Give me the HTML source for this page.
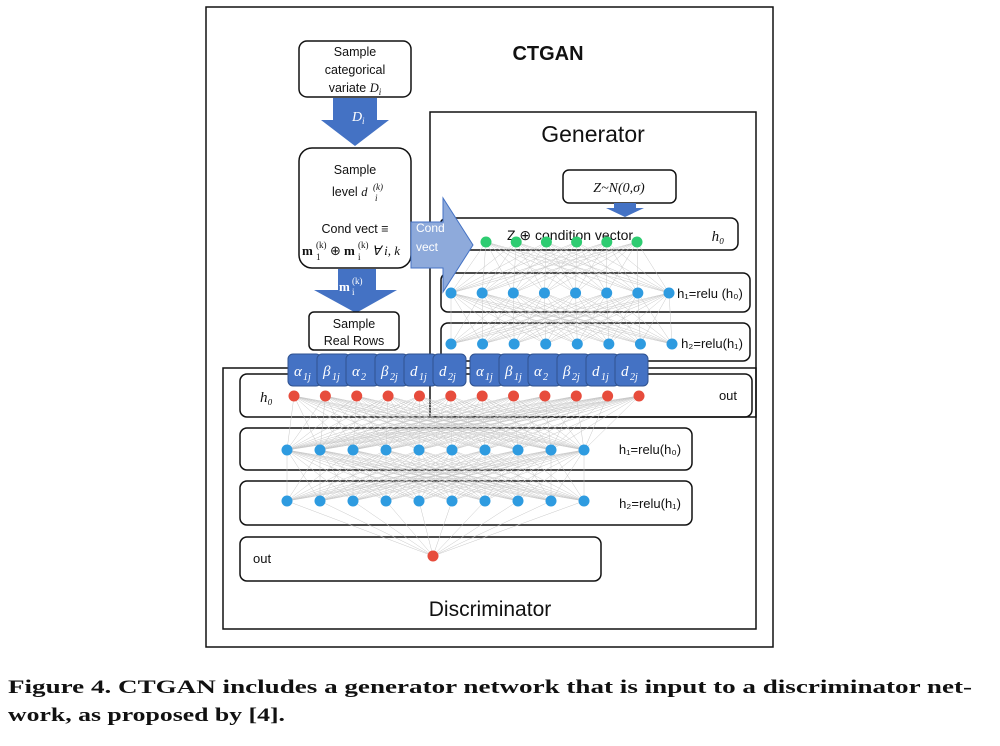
<!DOCTYPE html>
<html><head><meta charset="utf-8"><style>
html,body{margin:0;padding:0;background:#fff;width:1000px;height:746px;overflow:hidden}
svg{display:block}
.t{font-family:"Liberation Sans",sans-serif;fill:#111}
.m{font-family:"Liberation Serif",serif;font-style:italic;fill:#111}
.w{font-family:"Liberation Serif",serif;font-style:italic;fill:#fff}
</style></head><body>
<svg id="s" width="1000" height="746" viewBox="0 0 1000 746" xmlns="http://www.w3.org/2000/svg">
<rect x="206" y="7" width="567" height="640" fill="none" stroke="#111" stroke-width="1.5"/>
<text x="548" y="60" class="t" font-size="20" font-weight="bold" text-anchor="middle">CTGAN</text>
<!-- generator -->
<rect x="430" y="112" width="326" height="305" fill="none" stroke="#111" stroke-width="1.5"/>
<text x="593" y="142" class="t" font-size="23" text-anchor="middle">Generator</text>
<rect x="563" y="170" width="113" height="33" rx="6" fill="#fff" stroke="#111" stroke-width="1.5"/>
<text x="619" y="192" class="m" font-size="14" text-anchor="middle">Z~N(0,σ)</text>
<polygon points="614,203 636,203 636,208 644,208 625,217 606,208 614,208" fill="#4472c4"/>
<rect x="440" y="218" width="298" height="32" rx="7" fill="#fff" stroke="#111" stroke-width="1.5"/>
<text x="570" y="240" class="t" font-size="14" text-anchor="middle">Z ⊕ condition vector</text>
<text x="718" y="241" class="m" font-size="15" text-anchor="middle">h₀</text>
<rect x="441" y="273" width="309" height="39" rx="7" fill="#fff" stroke="#111" stroke-width="1.5"/>
<text x="710" y="298" class="t" font-size="13" text-anchor="middle">h₁=relu (h₀)</text>
<rect x="441" y="323" width="309" height="38" rx="7" fill="#fff" stroke="#111" stroke-width="1.5"/>
<text x="712" y="348" class="t" font-size="13" text-anchor="middle">h₂=relu(h₁)</text>
<!-- discriminator -->
<rect x="223" y="368" width="533" height="261" fill="none" stroke="#111" stroke-width="1.5"/>
<text x="490" y="616" class="t" font-size="21" text-anchor="middle">Discriminator</text>
<rect x="240" y="374" width="512" height="43" rx="7" fill="none" stroke="#111" stroke-width="1.5"/>
<text x="260" y="402" class="m" font-size="15">h₀</text>
<text x="728" y="400" class="t" font-size="13" text-anchor="middle">out</text>
<rect x="240" y="428" width="452" height="42" rx="7" fill="#fff" stroke="#111" stroke-width="1.5"/>
<text x="650" y="454" class="t" font-size="13" text-anchor="middle">h₁=relu(h₀)</text>
<rect x="240" y="481" width="452" height="44" rx="7" fill="#fff" stroke="#111" stroke-width="1.5"/>
<text x="650" y="508" class="t" font-size="13" text-anchor="middle">h₂=relu(h₁)</text>
<rect x="240" y="537" width="361" height="44" rx="7" fill="#fff" stroke="#111" stroke-width="1.5"/>
<text x="253" y="563" class="t" font-size="13">out</text>
<g id="lines" stroke="#c8c8c8" stroke-width="0.5"></g>
<g id="nodes"></g>
<!-- left column -->
<rect x="299" y="41" width="112" height="56" rx="8" fill="#fff" stroke="#111" stroke-width="1.5"/>
<text x="355" y="56" class="t" font-size="12.5" text-anchor="middle">Sample</text>
<text x="355" y="74" class="t" font-size="12.5" text-anchor="middle">categorical</text>
<text x="355" y="92" class="t" font-size="12.5" text-anchor="middle">variate <tspan class="m">D</tspan><tspan class="m" font-size="9" dy="3">i</tspan></text>
<polygon points="333,98 377,98 377,120 389,120 355,146 321,120 333,120" fill="#4472c4"/>
<text x="352" y="121" class="w" font-size="14">D</text><text x="362" y="124" class="w" font-size="9">i</text>
<rect x="299" y="148" width="112" height="120" rx="13" fill="#fff" stroke="#111" stroke-width="1.5"/>
<text x="355" y="174" class="t" font-size="12.5" text-anchor="middle">Sample</text>
<text x="332" y="196" class="t" font-size="12.5">level <tspan class="m">d</tspan></text>
<text x="373" y="190" class="m" font-size="9">(k)</text><text x="375" y="201" class="m" font-size="9">i</text>
<text x="355" y="233" class="t" font-size="12.5" text-anchor="middle">Cond vect ≡</text>
<text x="302" y="255" font-family="Liberation Serif,serif" font-size="13" font-weight="bold" fill="#111">m</text>
<text x="316" y="248" font-family="Liberation Serif,serif" font-size="9" fill="#111">(k)</text>
<text x="316" y="260" font-family="Liberation Serif,serif" font-size="9" fill="#111">1</text>
<text x="330" y="255" font-family="DejaVu Sans,sans-serif" font-size="13" fill="#111">⊕</text>
<text x="344" y="255" font-family="Liberation Serif,serif" font-size="13" font-weight="bold" fill="#111">m</text>
<text x="358" y="248" font-family="Liberation Serif,serif" font-size="9" fill="#111">(k)</text>
<text x="358" y="260" font-family="Liberation Serif,serif" font-size="9" fill="#111">i</text>
<text x="372" y="255" class="m" font-size="13">∀ i, k</text>
<polygon points="411,222 443,222 443,198 473,245 443,292 443,268 411,268" fill="#8eaadb" stroke="#4472c4" stroke-width="1"/>
<text x="416" y="232" font-family="Liberation Sans,sans-serif" font-size="12" fill="#fff">Cond</text>
<text x="416" y="251" font-family="Liberation Sans,sans-serif" font-size="12" fill="#fff">vect</text>
<polygon points="338,269 376,269 376,290 397,290 356,313 314,290 338,290" fill="#4472c4"/>
<text x="339" y="291" font-family="Liberation Serif,serif" font-size="13" font-weight="bold" fill="#fff">m</text>
<text x="352" y="284" font-family="Liberation Serif,serif" font-size="9" fill="#fff">(k)</text>
<text x="352" y="295" font-family="Liberation Serif,serif" font-size="9" fill="#fff">i</text>
<rect x="309" y="312" width="90" height="38" rx="5" fill="#fff" stroke="#111" stroke-width="1.5"/>
<text x="354" y="328" class="t" font-size="12.5" text-anchor="middle">Sample</text>
<text x="354" y="345" class="t" font-size="12.5" text-anchor="middle">Real Rows</text>
<g id="blue"></g>
<text x="8" y="693" font-family="Liberation Serif,serif" font-weight="bold" font-size="19" fill="#111" textLength="964" lengthAdjust="spacingAndGlyphs">Figure 4. CTGAN includes a generator network that is input to a discriminator net-</text>
<text x="8" y="721" font-family="Liberation Serif,serif" font-weight="bold" font-size="19" fill="#111" textLength="277" lengthAdjust="spacingAndGlyphs">work, as proposed by [4].</text>
</svg>
<script>
var NS="http://www.w3.org/2000/svg";
function el(n,a,p){var e=document.createElementNS(NS,n);for(var k in a)e.setAttribute(k,a[k]);document.getElementById(p).appendChild(e);return e;}
function row(xs,y){return xs.map(function(x){return [x,y];});}
function rng(a,b,n){var r=[];for(var i=0;i<n;i++)r.push(a+(b-a)*i/(n-1));return r;}
var g0=row(rng(486,637,6),242), g1=row(rng(451,669,8),293), g2=row(rng(451,672,8),344);
var d0=row(rng(294,639,12),396), d1=row(rng(287,584,10),450), d2=row(rng(287,584,10),501), d3=[[433,556]];
function conn(A,B){A.forEach(function(a){B.forEach(function(b){el("line",{x1:a[0],y1:a[1],x2:b[0],y2:b[1]},"lines");});});}
conn(g0,g1);conn(g1,g2);conn(d0,d1);conn(d1,d2);conn(d2,d3);
function dots(A,c){A.forEach(function(a){el("circle",{cx:a[0],cy:a[1],r:5.5,fill:c},"nodes");});}
dots(g0,"#2ecc71");dots(g1,"#2e9be0");dots(g2,"#2e9be0");dots(d0,"#e74c3c");dots(d1,"#2e9be0");dots(d2,"#2e9be0");dots(d3,"#e74c3c");
var labs=[["α","1j"],["β","1j"],["α","2"],["β","2j"],["d","1j"],["d","2j"]];
function grp(x0,w){labs.forEach(function(l,i){var x=x0+i*w;
el("rect",{x:x,y:354,width:w+4,height:32,rx:5,fill:"#4472c4",stroke:"#2f528f","stroke-width":1},"blue");
var t=el("text",{x:x+6,y:376,"class":"w","font-size":15},"blue");t.textContent=l[0];
var s=el("text",{x:x+15,y:380,"class":"w","font-size":10},"blue");s.textContent=l[1];});}
grp(288,29);grp(470,29);
</script>
</body></html>
